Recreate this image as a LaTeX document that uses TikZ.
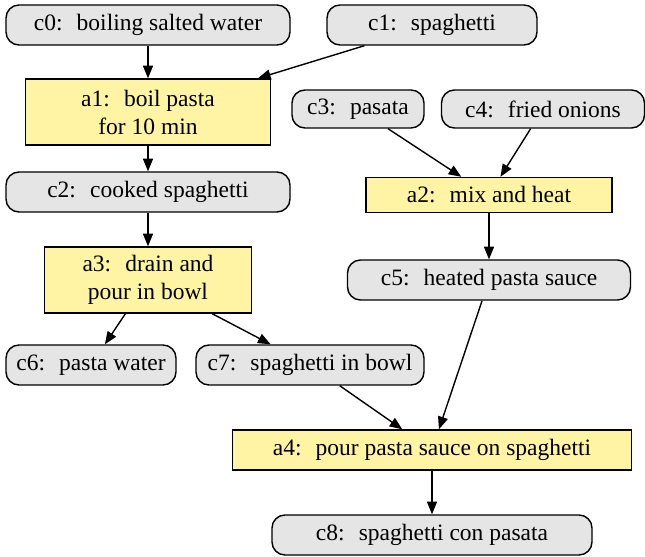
\documentclass[tikz,border=0pt]{standalone}
\usepackage{fontspec}
\setmainfont{LiberationSerif}[Extension=.ttf,UprightFont=*-Regular,BoldFont=*-Bold]
\usepackage{tikz}
\usetikzlibrary{arrows.meta}
\newcommand\lblfont{\fontsize{11.75}{14}\selectfont\nonfrenchspacing\xspaceskip 0.6em\relax}

\begin{document}
\begin{tikzpicture}[x=0.5pt,y=-0.5pt,>={Triangle[length=6.3pt,width=5pt]},
  cond/.style={draw,line width=0.7pt,rounded corners=6.5pt,fill=black!10,align=center,
    inner sep=0pt,minimum height=20pt,font=\lblfont},
  act/.style={draw,line width=0.7pt,fill={rgb,255:red,255;green,244;blue,163},align=center,
    inner sep=0pt,minimum height=20pt,font=\lblfont}]
\useasboundingbox (0,0) rectangle (645,557);
% conditions
\node[cond,minimum width=142pt] (c0) at (148,25) {c0: boiling salted water};
\node[cond,minimum width=105pt] (c1) at (432,25) {c1: spaghetti};
\node[cond,minimum width=142pt] (c2) at (148,192) {c2: cooked spaghetti};
\node[cond,minimum width=66pt,minimum height=19pt] (c3) at (358,109) {c3: pasata};
\node[cond,minimum width=101.5pt,minimum height=19pt] (c4) at (543,109) {c4: fried onions};
\node[cond,minimum width=141.5pt] (c5) at (489,280) {c5: heated pasta sauce};
\node[cond,minimum width=85pt] (c6) at (91,365) {c6: pasta water};
\node[cond,minimum width=114pt] (c7) at (310,365) {c7: spaghetti in bowl};
\node[cond,minimum width=160pt] (c8) at (432,535) {c8: spaghetti con pasata};
% actions
\node[act,minimum width=122.5pt,minimum height=33pt] (a1) at (148,112) {a1: boil pasta\\for 10 min};
\node[act,minimum width=123pt,minimum height=17.5pt] (a2) at (489,195) {a2: mix and heat};
\node[act,minimum width=103.5pt,minimum height=33pt] (a3) at (148,280) {a3: drain and\\pour in bowl};
\node[act,minimum width=199.5pt] (a4) at (432,450) {a4: pour pasta sauce on spaghetti};
% flow
\foreach \from/\to in {c0/a1,c1/a1,a1/c2,c2/a3,c3/a2,c4/a2,a2/c5,a3/c6,a3/c7,c7/a4,c5/a4,a4/c8}
  \draw[line width=0.7pt,->] (\from) -- (\to);
\end{tikzpicture}
\end{document}
